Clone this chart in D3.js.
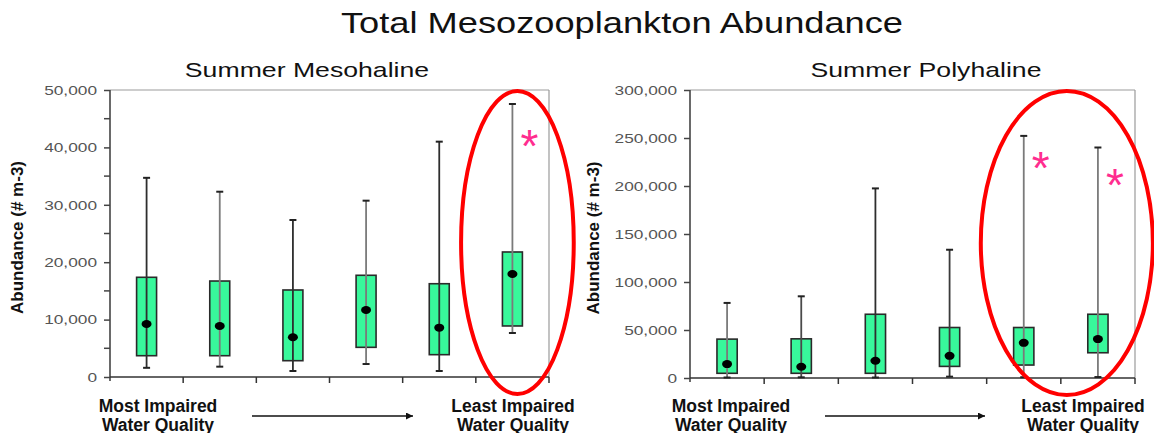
<!DOCTYPE html>
<html>
<head>
<meta charset="utf-8">
<script src="https://cdn.jsdelivr.net/npm/d3@7"></script>
<style>
  html, body { margin: 0; padding: 0; background: #fff; }
  svg { display: block; font-family: "Liberation Sans", Arial, sans-serif; }
</style>
</head>
<body>
<svg id="chart" width="1154" height="433"></svg>
<script>
// Sites ordered from most to least impaired water quality
const categories = ["1", "2", "3", "4", "5", "6"];

// Summer Mesohaline: whisker min, box lower, box upper, whisker max, mean (# m-3)
const mesoMin   = [1600, 1800, 1050, 2260, 1050, 7670];
const mesoLower = [3710, 3710, 2840, 5170, 3890, 8890];
const mesoUpper = [17370, 16720, 15160, 17720, 16250, 21780];
const mesoMax   = [34700, 32280, 27350, 30720, 41000, 47560];
const mesoMean  = [9230, 8880, 6920, 11670, 8590, 17940];

// Summer Polyhaline
const polyMin   = [500, 700, 500, 1400, 800, 1000];
const polyLower = [4900, 4900, 4900, 12100, 13500, 26300];
const polyUpper = [40500, 40800, 66400, 52600, 52600, 66400];
const polyMax   = [78200, 85100, 197500, 133600, 252200, 240100];
const polyMean  = [14500, 11700, 18000, 23100, 36600, 40500];

// Axis tick values
const mesoTicks = [0, 10000, 20000, 30000, 40000, 50000];
const mesoMinorTicks = [5000, 15000, 25000, 35000, 45000];
const polyTicks = [0, 50000, 100000, 150000, 200000, 250000, 300000];

// Significant sites (category index, value level of the asterisk)
const mesoStars = [[5, 42000]];
const polyStars = [[4, 229000], [5, 211000]];

const chartTitle = "Total Mesozooplankton Abundance";
const yLabel = "Abundance (# m-3)";
const leftNote = ["Most Impaired", "Water Quality"];
const rightNote = ["Least Impaired", "Water Quality"];

function zip(mins, lows, ups, maxs, means) {
  return categories.map((c, i) => ({
    cat: c, min: mins[i], lower: lows[i], upper: ups[i], max: maxs[i], mean: means[i]
  }));
}

const panels = [
  {
    title: "Summer Mesohaline",
    data: zip(mesoMin, mesoLower, mesoUpper, mesoMax, mesoMean),
    ticks: mesoTicks, minor: mesoMinorTicks, stars: mesoStars,
    x0: 110, x1: 549, yTop: 90, yBottom: 377,
    titleX: 307, labelX: 23,
    highlight: [5], ringDx: 5, ringRx: 0.77,
    whiskerShade: ["#2e2e2e", "#7a7a7a", "#2e2e2e", "#7a7a7a", "#2e2e2e", "#7a7a7a"],
    note: { left: 48, arrowFrom: 142, arrowTo: 303, right: 403 }
  },
  {
    title: "Summer Polyhaline",
    data: zip(polyMin, polyLower, polyUpper, polyMax, polyMean),
    ticks: polyTicks, minor: [], stars: polyStars,
    x0: 690, x1: 1135, yTop: 90, yBottom: 378,
    titleX: 926, labelX: 599,
    highlight: [4, 5], ringDx: 6, ringRx: 1.16,
    whiskerShade: ["#7a7a7a", "#4a4a4a", "#2e2e2e", "#3a3a3a", "#7a7a7a", "#7a7a7a"],
    note: { left: 41, arrowFrom: 135, arrowTo: 295, right: 393 }
  }
];

const svg = d3.select("#chart");
const fmt = d3.format(",");
const TEXT_STRETCH = 1.28;

// Arrowhead marker
svg.append("defs").append("marker")
  .attr("id", "arrowHead")
  .attr("viewBox", "0 0 10 10")
  .attr("refX", 10).attr("refY", 5)
  .attr("markerWidth", 13).attr("markerHeight", 7)
  .attr("markerUnits", "userSpaceOnUse")
  .attr("orient", "auto")
  .append("path")
  .attr("d", "M0,0 L10,5 L0,10 Z")
  .attr("fill", "#111");

// Main title
svg.append("text")
  .attr("transform", `translate(622,33) scale(1.25,1)`)
  .attr("text-anchor", "middle")
  .attr("font-size", 29)
  .attr("fill", "#111")
  .text(chartTitle);

panels.forEach(p => {
  const yMax = d3.max(p.ticks);
  const x = d3.scaleBand().domain(categories).range([p.x0, p.x1]).padding(0);
  const y = d3.scaleLinear().domain([0, yMax]).range([p.yBottom, p.yTop]);
  const bw = x.bandwidth();
  const boxW = bw * 0.273;
  const cx = d => x(d.cat) + bw / 2;

  const g = svg.append("g");

  // Panel subtitle
  g.append("text")
    .attr("transform", `translate(${p.titleX},77) scale(1.3,1)`)
    .attr("text-anchor", "middle")
    .attr("font-size", 20.5)
    .attr("fill", "#111")
    .text(p.title);

  // Frame: top and right edges
  g.append("line")
    .attr("x1", p.x0).attr("x2", p.x1)
    .attr("y1", y(yMax)).attr("y2", y(yMax))
    .attr("stroke", "#bdbdbd").attr("stroke-width", 1.5);
  g.append("line")
    .attr("x1", p.x1).attr("x2", p.x1)
    .attr("y1", y(yMax)).attr("y2", y(0))
    .attr("stroke", "#9a9a9a").attr("stroke-width", 1.2);

  // Y axis
  const yAxis = d3.axisLeft(y).tickValues(p.ticks).tickFormat(fmt).tickSize(6).tickPadding(7);
  const ya = g.append("g").attr("transform", `translate(${p.x0},0)`).call(yAxis);
  ya.select(".domain").remove();
  ya.selectAll(".tick line").attr("stroke", "#444").attr("stroke-width", 1.5);
  ya.selectAll(".tick text")
    .attr("font-family", "\"Liberation Sans\", Arial, sans-serif")
    .attr("font-size", 13.5)
    .attr("fill", "#555")
    .attr("transform", `scale(${TEXT_STRETCH},1)`)
    .attr("x", -13 / TEXT_STRETCH);
  g.append("line")
    .attr("x1", p.x0).attr("x2", p.x0)
    .attr("y1", y(yMax)).attr("y2", y(0) + 4)
    .attr("stroke", "#444").attr("stroke-width", 1.6);
  // Minor ticks
  g.selectAll(".minor").data(p.minor).join("line")
    .attr("x1", p.x0 - 6).attr("x2", p.x0)
    .attr("y1", d => y(d)).attr("y2", d => y(d))
    .attr("stroke", "#444").attr("stroke-width", 1.5);

  // X axis: baseline with ticks between categories
  g.append("line")
    .attr("x1", p.x0).attr("x2", p.x1)
    .attr("y1", y(0)).attr("y2", y(0))
    .attr("stroke", "#333").attr("stroke-width", 1.6);
  g.selectAll(".xtick").data(categories).join("line")
    .attr("x1", d => x(d) + bw).attr("x2", d => x(d) + bw)
    .attr("y1", y(0)).attr("y2", y(0) + 6)
    .attr("stroke", "#333").attr("stroke-width", 1.5);

  // Y label
  g.append("text")
    .attr("transform", `translate(${p.labelX},${(y(0) + y(yMax)) / 2 + 4}) rotate(-90)`)
    .attr("text-anchor", "middle")
    .attr("font-size", 17)
    .attr("font-weight", "bold")
    .attr("fill", "#111")
    .text(yLabel);

  // Boxes
  const box = g.selectAll(".box").data(p.data).join("g");
  box.append("rect")
    .attr("x", d => cx(d) - boxW / 2)
    .attr("width", boxW)
    .attr("y", d => y(d.upper))
    .attr("height", d => y(d.lower) - y(d.upper))
    .attr("fill", "#38f89b")
    .attr("stroke", "#2a2a2a").attr("stroke-width", 1.6);
  // Whisker
  box.append("line")
    .attr("x1", cx).attr("x2", cx)
    .attr("y1", d => y(d.max)).attr("y2", d => y(d.min))
    .attr("stroke", (d, i) => p.whiskerShade[i]).attr("stroke-width", 1.8);
  // Whisker caps
  ["max", "min"].forEach(k => {
    box.append("line")
      .attr("x1", d => cx(d) - 3.5).attr("x2", d => cx(d) + 3.5)
      .attr("y1", d => y(d[k])).attr("y2", d => y(d[k]))
      .attr("stroke", "#222").attr("stroke-width", 2);
  });
  // Mean marker
  box.append("ellipse")
    .attr("cx", cx).attr("cy", d => y(d.mean))
    .attr("rx", 5).attr("ry", 4)
    .attr("fill", "#000");

  // Highlight ring around the least impaired sites
  const hx = d3.mean(p.highlight, i => x(categories[i]) + bw / 2) + p.ringDx;
  g.append("ellipse")
    .attr("cx", hx)
    .attr("cy", (y(yMax) + 1 + y(0) + 17) / 2)
    .attr("rx", bw * p.ringRx)
    .attr("ry", (y(0) + 17 - y(yMax) - 1) / 2)
    .attr("fill", "none")
    .attr("stroke", "#ff0000").attr("stroke-width", 4);

  // Significance asterisks
  g.selectAll(".star").data(p.stars).join("text")
    .attr("x", d => x(categories[d[0]]) + bw / 2 + 17)
    .attr("y", d => y(d[1]) + 26)
    .attr("text-anchor", "middle")
    .attr("font-size", 46)
    .attr("fill", "#ff2d8f")
    .text("*");

  // Water quality gradient notes
  const ny = 412;
  [[leftNote, p.note.left], [rightNote, p.note.right]].forEach(([lines, dx]) => {
    const t = g.append("text")
      .attr("text-anchor", "middle")
      .attr("font-size", 17.5)
      .attr("font-weight", "bold")
      .attr("fill", "#111");
    lines.forEach((s, i) => t.append("tspan")
      .attr("x", p.x0 + dx).attr("y", ny + i * 19).text(s));
  });
  g.append("line")
    .attr("x1", p.x0 + p.note.arrowFrom).attr("x2", p.x0 + p.note.arrowTo)
    .attr("y1", 416).attr("y2", 416)
    .attr("stroke", "#111").attr("stroke-width", 1.5)
    .attr("marker-end", "url(#arrowHead)");
});
</script>
</body>
</html>
